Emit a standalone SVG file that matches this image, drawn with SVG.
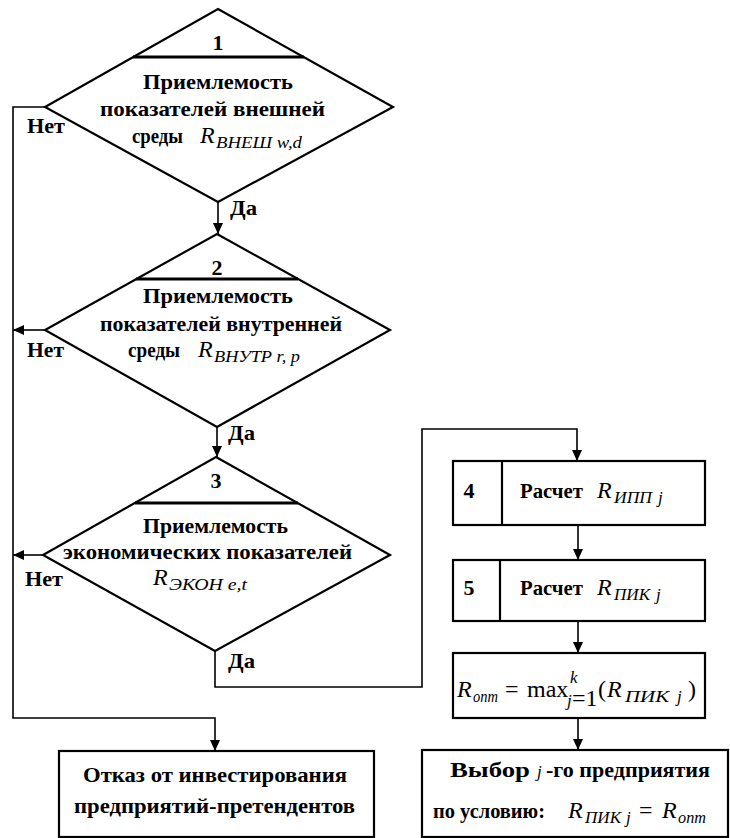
<svg xmlns="http://www.w3.org/2000/svg" width="730" height="838" viewBox="0 0 730 838">
  <style>
    .shape { fill: none; stroke: #000; stroke-width: 2.2; }
    .bar { stroke: #000; stroke-width: 2.8; }
    .line { fill: none; stroke: #000; stroke-width: 1.6; }
    .t { font-family: "Liberation Serif", "Times New Roman", serif; font-weight: bold; font-size: 22px; fill: #000; }
    .m { font-family: "Liberation Serif", "Times New Roman", serif; font-style: italic; font-size: 24px; fill: #000; }
    .s { font-family: "Liberation Serif", "Times New Roman", serif; font-style: italic; font-size: 17px; fill: #000; }
    .r { font-family: "Liberation Serif", "Times New Roman", serif; font-size: 24px; fill: #000; }
  </style>
  <defs>
    <marker id="arrow" markerUnits="userSpaceOnUse" markerWidth="12" markerHeight="10" refX="11" refY="5" orient="auto">
      <path d="M0,0 L11,5 L0,10 Z" fill="#000"/>
    </marker>
  </defs>

  <rect width="730" height="838" fill="#fff"/>

  <!-- connectors and branch labels -->
  <g id="connectors">
    <path class="line" d="M45,107 H13 V718 H215 V751" marker-end="url(#arrow)"/>
    <path class="line" d="M45,330 H13" marker-end="url(#arrow)"/>
    <path class="line" d="M43,555 H13" marker-end="url(#arrow)"/>
    <path class="line" d="M218,202 V234" marker-end="url(#arrow)"/>
    <path class="line" d="M217,427 V457" marker-end="url(#arrow)"/>
    <path class="line" d="M215,651 V687 H422 V429 H577 V461" marker-end="url(#arrow)"/>
    <path class="line" d="M578,525 V560" marker-end="url(#arrow)"/>
    <path class="line" d="M578,621 V653" marker-end="url(#arrow)"/>
    <path class="line" d="M578,718 V750" marker-end="url(#arrow)"/>
    <text class="t" x="27" y="133" textLength="38" lengthAdjust="spacingAndGlyphs">Нет</text>
    <text class="t" x="27" y="357" textLength="37" lengthAdjust="spacingAndGlyphs">Нет</text>
    <text class="t" x="25" y="586" textLength="38" lengthAdjust="spacingAndGlyphs">Нет</text>
    <text class="t" x="230" y="215" textLength="27" lengthAdjust="spacingAndGlyphs">Да</text>
    <text class="t" x="228" y="440" textLength="27" lengthAdjust="spacingAndGlyphs">Да</text>
    <text class="t" x="228" y="668" textLength="27" lengthAdjust="spacingAndGlyphs">Да</text>
  </g>

  <!-- decision 1: external environment -->
  <g id="decision1">
    <polygon class="shape" points="218,9 393,107 218,202 45,107"/>
    <line class="bar" x1="133" y1="57" x2="304" y2="57"/>
    <text class="t" x="218" y="50" text-anchor="middle">1</text>
    <text class="t" x="143" y="89" textLength="150" lengthAdjust="spacingAndGlyphs">Приемлемость</text>
    <text class="t" x="100" y="116" textLength="225" lengthAdjust="spacingAndGlyphs">показателей внешней</text>
    <text class="t" x="132" y="143" textLength="51" lengthAdjust="spacingAndGlyphs">среды</text>
    <text class="m" x="200" y="143">R</text>
    <text class="s" x="216" y="148" textLength="86" lengthAdjust="spacingAndGlyphs">ВНЕШ w,d</text>
  </g>

  <!-- decision 2: internal environment -->
  <g id="decision2">
    <polygon class="shape" points="217,234 390,330 217,427 45,330"/>
    <line class="bar" x1="136" y1="279" x2="298" y2="279"/>
    <text class="t" x="217" y="275" text-anchor="middle">2</text>
    <text class="t" x="143" y="303" textLength="150" lengthAdjust="spacingAndGlyphs">Приемлемость</text>
    <text class="t" x="100" y="331" textLength="242" lengthAdjust="spacingAndGlyphs">показателей внутренней</text>
    <text class="t" x="128" y="357" textLength="52" lengthAdjust="spacingAndGlyphs">среды</text>
    <text class="m" x="198" y="357">R</text>
    <text class="s" x="214" y="362" textLength="86" lengthAdjust="spacingAndGlyphs">ВНУТР r, p</text>
  </g>

  <!-- decision 3: economic indicators -->
  <g id="decision3">
    <polygon class="shape" points="216,457 390,555 215,651 43,555"/>
    <line class="bar" x1="135" y1="503" x2="298" y2="503"/>
    <text class="t" x="216" y="488" text-anchor="middle">3</text>
    <text class="t" x="143" y="533" textLength="145" lengthAdjust="spacingAndGlyphs">Приемлемость</text>
    <text class="t" x="63" y="559" textLength="289" lengthAdjust="spacingAndGlyphs">экономических показателей</text>
    <text class="m" x="153" y="585">R</text>
    <text class="s" x="169" y="590" textLength="78" lengthAdjust="spacingAndGlyphs">ЭКОН e,t</text>
  </g>

  <!-- step 4 -->
  <g id="step4">
    <rect class="shape" x="453" y="461" width="252" height="64"/>
    <line class="shape" x1="502" y1="461" x2="502" y2="525"/>
    <text class="t" x="469" y="498" text-anchor="middle">4</text>
    <text class="t" x="520" y="498" textLength="63" lengthAdjust="spacingAndGlyphs">Расчет</text>
    <text class="m" x="597" y="498">R</text>
    <text class="s" x="614" y="503" textLength="38" lengthAdjust="spacingAndGlyphs">ИПП</text>
    <text class="s" x="658" y="503">j</text>
  </g>

  <!-- step 5 -->
  <g id="step5">
    <rect class="shape" x="453" y="560" width="252" height="61"/>
    <line class="shape" x1="500" y1="560" x2="500" y2="621"/>
    <text class="t" x="469" y="595" text-anchor="middle">5</text>
    <text class="t" x="520" y="595" textLength="63" lengthAdjust="spacingAndGlyphs">Расчет</text>
    <text class="m" x="597" y="595">R</text>
    <text class="s" x="614" y="600" textLength="36" lengthAdjust="spacingAndGlyphs">ПИК</text>
    <text class="s" x="656" y="600">j</text>
  </g>

  <!-- optimum: maximum over candidates -->
  <g id="optimum">
    <rect class="shape" x="453" y="653" width="252" height="65"/>
    <text class="m" x="457" y="697" font-size="26">R</text>
    <text class="s" x="473" y="702" font-size="18" textLength="25" lengthAdjust="spacingAndGlyphs">опт</text>
    <text class="r" x="505" y="697">=</text>
    <text class="r" x="527" y="697">max</text>
    <text class="s" x="570" y="683" font-size="14">k</text>
    <text class="s" x="567" y="706" font-size="14">j</text>
    <text class="r" x="572" y="706" font-size="14">=1</text>
    <text class="r" x="598" y="697" font-size="26">(</text>
    <text class="m" x="607" y="697" font-size="26">R</text>
    <text class="s" x="625" y="702" font-size="18" textLength="44" lengthAdjust="spacingAndGlyphs">ПИК</text>
    <text class="s" x="677" y="702" font-size="18">j</text>
    <text class="r" x="688" y="697" font-size="26">)</text>
  </g>

  <!-- refusal outcome -->
  <g id="refusal">
    <rect class="shape" x="59" y="751" width="315" height="86"/>
    <text class="t" x="83" y="782" textLength="264" lengthAdjust="spacingAndGlyphs">Отказ от инвестирования</text>
    <text class="t" x="74" y="813" textLength="281" lengthAdjust="spacingAndGlyphs">предприятий-претендентов</text>
  </g>

  <!-- selection outcome -->
  <g id="selection">
    <rect class="shape" x="422" y="750" width="306" height="87"/>
    <text class="t" x="450" y="777" textLength="80" lengthAdjust="spacingAndGlyphs">Выбор</text>
    <text class="s" x="537" y="777" font-size="20">j</text>
    <text class="t" x="546" y="777" textLength="164" lengthAdjust="spacingAndGlyphs">-го предприятия</text>
    <text class="t" x="433" y="818" textLength="112" lengthAdjust="spacingAndGlyphs">по условию:</text>
    <text class="m" x="568" y="818">R</text>
    <text class="s" x="585" y="823" textLength="36" lengthAdjust="spacingAndGlyphs">ПИК</text>
    <text class="s" x="626" y="823">j</text>
    <text class="r" x="639" y="818">=</text>
    <text class="m" x="662" y="818">R</text>
    <text class="s" x="678" y="823" font-size="18" textLength="28" lengthAdjust="spacingAndGlyphs">опт</text>
  </g>
</svg>
